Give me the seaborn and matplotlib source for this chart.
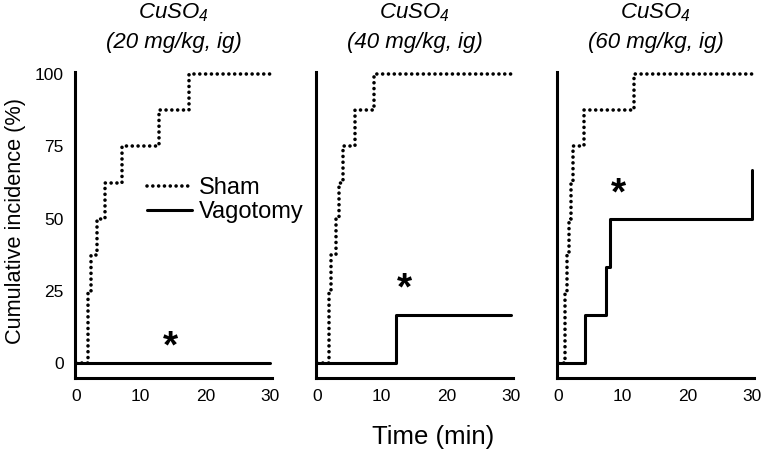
import matplotlib
matplotlib.use("Agg")
import matplotlib.pyplot as plt
import seaborn as sns

# ---------------- data ----------------
doses = ["20 mg/kg, ig", "40 mg/kg, ig", "60 mg/kg, ig"]

# Sham (dotted) - event times (min) and cumulative incidence (%)
sham_t_20 = [0, 1.9, 2.4, 3.2, 4.5, 7.1, 12.8, 17.5, 30]
sham_p_20 = [0, 25, 37.5, 50, 62.5, 75, 87.5, 100, 100]
sham_t_40 = [0, 1.9, 2.2, 2.9, 3.4, 4.1, 5.9, 8.8, 30]
sham_p_40 = [0, 25, 37.5, 50, 62.5, 75, 87.5, 100, 100]
sham_t_60 = [0, 1.1, 1.4, 1.7, 2.0, 2.4, 4.0, 11.8, 30]
sham_p_60 = [0, 25, 37.5, 50, 62.5, 75, 87.5, 100, 100]

# Vagotomy (solid)
vago_t_20 = [0, 30]
vago_p_20 = [0, 0]
vago_t_40 = [0, 12.2, 30]
vago_p_40 = [0, 16.7, 16.7]
vago_t_60 = [0, 4.2, 7.4, 8.0, 30]
vago_p_60 = [0, 16.7, 33.3, 50, 66.7]

# asterisk positions (min, %)
star_x = [14.6, 13.6, 9.3]
star_y = [8, 28, 61]

yticks = [0, 25, 50, 75, 100]
xticks = [0, 10, 20, 30]

sham = [(sham_t_20, sham_p_20), (sham_t_40, sham_p_40), (sham_t_60, sham_p_60)]
vago = [(vago_t_20, vago_p_20), (vago_t_40, vago_p_40), (vago_t_60, vago_p_60)]

# ---------------- plot ----------------
sns.set_style("white")
plt.rcParams['font.family'] = ['Liberation Sans', 'DejaVu Sans']
plt.rcParams['mathtext.fontset'] = 'custom'
plt.rcParams['mathtext.rm'] = 'Liberation Sans:italic'
plt.rcParams['mathtext.it'] = 'Liberation Sans:italic'
for k in ['text.color', 'axes.labelcolor', 'xtick.color', 'ytick.color']:
    plt.rcParams[k] = 'black'

fig = plt.figure(figsize=(7.63, 4.51), dpi=100)
lefts = [75, 316, 557]
dotted = (0, (0.01, 1.6))

for i in range(3):
    ax = fig.add_axes([lefts[i] / 763, 73 / 451, 197 / 763, 306 / 451])
    st, sp = sham[i]
    vt, vp = vago[i]
    sns.lineplot(x=st, y=sp, ax=ax, color="black", lw=2.6, linestyle=dotted,
                 dash_capstyle="round", drawstyle="steps-post",
                 estimator=None, sort=False, label="Sham")
    sns.lineplot(x=vt, y=vp, ax=ax, color="black", lw=2.2,
                 drawstyle="steps-post", estimator=None, sort=False,
                 label="Vagotomy")
    # asterisk glyph sits high in its box, nudge it down
    ax.annotate("*", xy=(star_x[i], star_y[i]), xytext=(0, -5.5),
                textcoords="offset points", fontsize=28, fontweight="bold",
                ha="center", va="center")

    ax.set_xlim(-0.15, 30.3)
    ax.set_ylim(-5.2, 100.8)
    ax.set_xticks(xticks)
    ax.set_yticks(yticks)
    ax.tick_params(length=0, labelsize=12.5, pad=8)
    if i > 0:
        ax.set_yticklabels([])
    for s in ["top", "right"]:
        ax.spines[s].set_visible(False)
    for s in ["left", "bottom"]:
        ax.spines[s].set_linewidth(2.2)
        ax.spines[s].set_color("black")
    ax.set_xlabel("")
    ax.set_ylabel("")

    ax.annotate(r"CuSO$\mathregular{_4}$", xy=(0.5, 1), xycoords="axes fraction",
                xytext=(0, 43), textcoords="offset points", ha="center",
                va="center", fontsize=16, style="italic")
    ax.annotate("(" + doses[i] + ")", xy=(0.5, 1), xycoords="axes fraction",
                xytext=(0, 21), textcoords="offset points", ha="center",
                va="center", fontsize=16, style="italic")

    if i == 0:
        ax.legend(loc="center left", bbox_to_anchor=((147 - 75) / 197, (378 - 200) / 306),
                  frameon=False, fontsize=17, handlelength=1.9,
                  handletextpad=0.3, borderpad=0, borderaxespad=0,
                  labelspacing=0.1)
    else:
        ax.get_legend().remove()

fig.text(433 / 763, 14 / 451, "Time (min)", ha="center", va="center", fontsize=18.5)
fig.text(16 / 763, (451 - 221) / 451, "Cumulative incidence (%)", rotation=90,
         ha="center", va="center", fontsize=15.7)

plt.savefig("out.png", dpi=100)
